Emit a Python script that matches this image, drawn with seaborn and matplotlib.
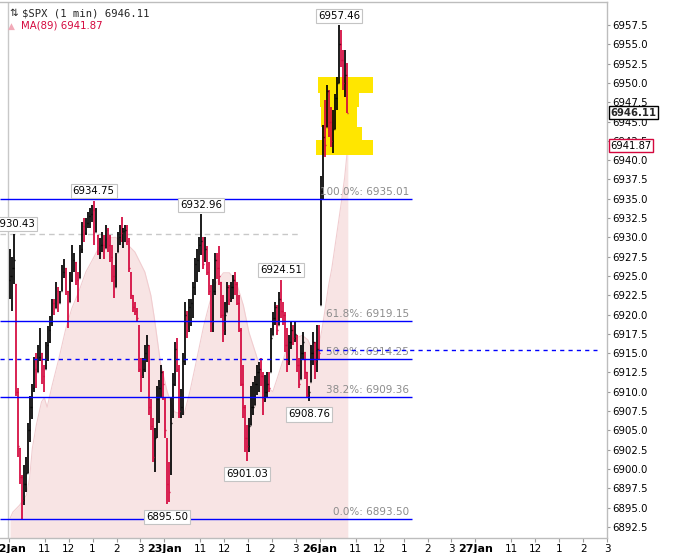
import numpy as np
import pandas as pd
import seaborn as sns
import matplotlib.pyplot as plt
import matplotlib.transforms as mtransforms

# 5-minute bars (high, low, close); open = previous close
hi_22 = [6928.5, 6927.5, 6930.43, 6924.0, 6910.5, 6902.7, 6899.2, 6900.5, 6901.5, 6906.0,
         6909.5, 6911.0, 6914.5, 6915.0, 6916.0, 6918.3, 6915.0, 6913.5, 6916.5, 6918.5,
         6919.8, 6922.0, 6922.0, 6924.2, 6923.5, 6923.0, 6926.4, 6927.2, 6926.0, 6923.0,
         6925.5, 6929.0, 6928.0, 6926.8, 6925.5, 6929.0, 6932.0, 6932.5, 6932.5, 6933.3,
         6933.8, 6934.2, 6934.75, 6933.8, 6930.3, 6929.9, 6930.7, 6930.3, 6931.6, 6931.2,
         6930.3, 6929.0, 6926.4, 6928.0, 6930.7, 6931.6, 6932.6, 6931.2, 6931.6, 6931.6,
         6929.9, 6925.5, 6922.5, 6921.6, 6920.8, 6918.6, 6914.4, 6914.4, 6916.0, 6917.3,
         6916.0, 6909.0, 6906.6, 6905.3, 6910.8, 6911.5, 6913.4, 6912.7]
lo_22 = [6922.0, 6920.5, 6924.0, 6909.5, 6901.5, 6898.0, 6893.5, 6895.3, 6897.0, 6899.5,
         6903.5, 6906.5, 6910.0, 6910.5, 6912.5, 6914.0, 6911.0, 6910.0, 6913.0, 6914.0,
         6916.3, 6918.5, 6920.0, 6920.8, 6920.3, 6921.5, 6923.0, 6924.7, 6922.5, 6918.2,
         6921.6, 6924.2, 6925.5, 6923.8, 6921.6, 6924.7, 6928.0, 6929.4, 6930.3, 6931.2,
         6931.2, 6932.0, 6929.0, 6930.7, 6927.7, 6927.2, 6928.1, 6927.2, 6928.6, 6928.1,
         6926.8, 6924.2, 6922.1, 6923.5, 6928.1, 6929.0, 6929.4, 6928.6, 6929.4, 6929.0,
         6925.5, 6922.0, 6920.3, 6919.9, 6919.0, 6912.5, 6910.0, 6911.8, 6912.5, 6913.8,
         6907.0, 6905.0, 6900.9, 6899.6, 6904.0, 6906.0, 6909.2, 6908.9]
cl_22 = [6925.0, 6926.0, 6927.0, 6910.0, 6903.0, 6899.0, 6896.0, 6898.0, 6899.5, 6905.0,
         6908.0, 6910.5, 6913.0, 6912.0, 6914.5, 6917.0, 6912.0, 6911.0, 6916.0, 6918.0,
         6919.0, 6921.5, 6920.5, 6923.0, 6921.0, 6922.0, 6925.5, 6926.0, 6923.0, 6919.0,
         6924.5, 6927.0, 6927.0, 6924.5, 6922.5, 6928.5, 6931.5, 6930.5, 6931.8, 6932.8,
         6933.0, 6933.5, 6930.5, 6931.0, 6928.0, 6929.0, 6929.0, 6928.0, 6931.0, 6929.0,
         6927.5, 6925.0, 6923.0, 6926.0, 6930.0, 6930.5, 6930.0, 6930.8, 6931.0, 6929.5,
         6926.0, 6922.5, 6921.0, 6920.5, 6919.5, 6913.0, 6912.0, 6913.0, 6915.0, 6916.0,
         6908.0, 6905.5, 6901.5, 6904.0, 6909.0, 6910.5, 6912.5, 6911.0]

hi_23 = [6909.2, 6904.0, 6900.9, 6909.2, 6912.4, 6916.4, 6917.0, 6913.5, 6910.3, 6915.0,
         6921.6, 6920.5, 6922.0, 6922.0, 6924.2, 6927.3, 6928.5, 6930.0, 6932.96, 6930.0,
         6930.0, 6928.9, 6926.8, 6923.8, 6924.6, 6928.0, 6928.0, 6928.9, 6924.2, 6922.5,
         6921.6, 6924.2, 6923.8, 6924.2, 6925.1, 6925.5, 6924.2, 6922.5, 6918.2, 6913.5,
         6908.3, 6905.7, 6906.6, 6910.8, 6911.3, 6912.0, 6913.5, 6913.9, 6914.4, 6912.6,
         6912.2, 6912.6, 6912.6, 6918.2, 6920.3, 6921.6, 6921.2, 6922.9, 6924.51, 6921.6,
         6920.3, 6918.2, 6917.3, 6919.0, 6918.6, 6919.0, 6917.3, 6914.4, 6916.0, 6917.7,
         6915.1, 6912.6, 6910.8, 6916.0, 6917.7, 6916.4, 6918.6, 6918.6]
lo_23 = [6904.0, 6895.5, 6895.7, 6899.2, 6906.6, 6910.8, 6912.5, 6906.6, 6906.6, 6907.0,
         6913.5, 6917.0, 6917.7, 6918.5, 6919.6, 6922.5, 6924.2, 6925.5, 6927.7, 6925.9,
         6926.8, 6925.1, 6922.5, 6917.7, 6917.7, 6922.5, 6924.6, 6923.8, 6919.6, 6916.4,
         6917.3, 6920.3, 6921.2, 6921.6, 6922.0, 6922.5, 6921.2, 6917.7, 6910.8, 6906.6,
         6902.2, 6901.03, 6902.2, 6905.7, 6907.0, 6908.3, 6909.6, 6910.0, 6910.8, 6907.0,
         6908.7, 6909.2, 6910.0, 6912.6, 6917.3, 6918.6, 6917.3, 6918.6, 6919.6, 6918.6,
         6915.1, 6912.6, 6913.5, 6915.5, 6916.0, 6916.4, 6912.6, 6910.5, 6911.7, 6914.3,
         6911.7, 6909.2, 6908.76, 6911.3, 6913.4, 6911.7, 6912.6, 6914.3]
cl_23 = [6905.0, 6898.0, 6897.0, 6906.0, 6911.0, 6915.5, 6913.0, 6907.5, 6908.0, 6914.0,
         6920.0, 6918.0, 6921.0, 6921.5, 6923.5, 6926.5, 6927.0, 6929.0, 6929.5, 6926.5,
         6928.5, 6925.5, 6923.0, 6919.0, 6923.0, 6927.0, 6926.0, 6925.0, 6920.0, 6918.0,
         6920.0, 6923.5, 6922.0, 6923.5, 6924.5, 6924.0, 6921.5, 6918.0, 6911.0, 6908.0,
         6904.0, 6903.0, 6905.5, 6908.0, 6908.0, 6911.0, 6912.5, 6913.0, 6912.0, 6909.0,
         6910.0, 6911.0, 6910.5, 6917.0, 6919.5, 6921.0, 6918.0, 6922.0, 6920.5, 6920.0,
         6916.0, 6914.0, 6916.5, 6918.0, 6917.0, 6917.5, 6913.5, 6911.0, 6915.0, 6916.5,
         6912.5, 6909.6, 6910.0, 6915.0, 6916.5, 6914.0, 6915.5, 6915.0]

hi_26 = [6938.0, 6944.5, 6947.8, 6949.7, 6949.1, 6946.9, 6946.5, 6948.6, 6950.8, 6957.46,
         6956.8, 6954.3, 6954.3, 6952.6]
lo_26 = [6921.2, 6935.0, 6940.4, 6944.3, 6943.0, 6941.7, 6940.9, 6944.0, 6946.5, 6950.0,
         6952.0, 6949.1, 6948.2, 6946.1]
cl_26 = [6936.0, 6943.0, 6942.0, 6949.0, 6945.0, 6942.5, 6944.0, 6948.0, 6950.0, 6955.0,
         6953.0, 6950.0, 6951.0, 6946.11]
first_open = 6924.5

# MA(89) sampled from the pink area (minutes since 22Jan open)
ma_minutes = [3, 10, 27, 44, 52, 59, 69, 82, 89, 96, 109, 126, 143, 158, 175, 193, 212, 225,
              249, 267, 291, 316, 341, 356, 365, 380, 397, 415, 439, 454, 472, 489, 504, 521,
              538, 553, 570, 588, 602, 620, 637, 652, 662, 676, 694, 718, 736, 750, 763, 775,
              785, 792, 802, 810, 822, 834, 842, 850]
ma_values = [6893.6, 6894.4, 6895.3, 6896.6, 6898.8, 6902.7, 6905.7, 6908.7, 6909.2, 6908.0,
             6910.9, 6914.4, 6918.2, 6920.8, 6922.9, 6925.5, 6927.3, 6928.6, 6929.9, 6930.0,
             6929.4, 6928.1, 6925.5, 6922.5, 6919.5, 6913.8, 6910.0, 6907.4, 6907.0, 6910.0,
             6914.4, 6918.6, 6921.6, 6924.2, 6925.4, 6925.4, 6924.2, 6921.2, 6917.7, 6914.8,
             6911.8, 6910.4, 6910.0, 6912.2, 6915.1, 6916.9, 6917.3, 6916.7, 6915.1, 6915.4,
             6918.0, 6920.3, 6923.8, 6926.0, 6930.3, 6934.6, 6937.7, 6941.87]

fib_pct = ['100.0%', '61.8%', '50.0%', '38.2%', '0.0%']
fib_levels = [6935.01, 6919.15, 6914.25, 6909.36, 6893.50]

# marked highs / lows: (day, bar index, value, side)
marks_day = [0, 0, 1, 1, 1, 1, 1, 2]
marks_bar = [2, 42, 1, 18, 41, 58, 72, 9]
marks_val = [6930.43, 6934.75, 6895.50, 6932.96, 6901.03, 6924.51, 6908.76, 6957.46]
marks_up = [True, True, False, True, False, True, False, True]

# yellow highlight block on 26Jan
yellow_low = [6948.7, 6946.9, 6944.3, 6942.6, 6940.7]
yellow_high = [6950.8, 6948.7, 6946.9, 6944.3, 6942.6]
yellow_from = [775, 780, 782, 785, 770]
yellow_to = [913, 879, 874, 886, 913]

prev_close = 6915.4
last_price = 6946.11
last_ma = 6941.87

day_names = ['22Jan', '23Jan', '26Jan', '27Jan']
hour_names = ['11', '12', '1', '2', '3']
hour_offsets = [90, 150, 210, 270, 330]

DAY = 390
BAR = 5

rows = []
for d, (hs, ls, cs) in enumerate([(hi_22, lo_22, cl_22), (hi_23, lo_23, cl_23), (hi_26, lo_26, cl_26)]):
    for i, (h, l, c) in enumerate(zip(hs, ls, cs)):
        rows.append({'t': d * DAY + i * BAR + BAR / 2, 'high': h, 'low': l, 'close': c})
df = pd.DataFrame(rows)
df['open'] = df['close'].shift(1).fillna(first_open)
df['open'] = df['open'].clip(df['low'], df['high'])
df['color'] = np.where(df['close'] >= df['open'], '#000000', '#d4073d')

sns.set_theme(style='white')
plt.rcParams['font.family'] = ['DejaVu Sans']

BLUE = '#0000ff'
RED = '#d4073d'
PINK = '#f8e4e4'

fig = plt.figure(figsize=(6.83, 5.53), dpi=100)
ax = fig.add_axes([0, 15 / 553, 607 / 683, 536 / 553])
xmin, xmax = -22.2, 1476
ymin, ymax = 6891.05, 6960.48
ax.set_xlim(xmin, xmax)
ax.set_ylim(ymin, ymax)

# MA(89) area
ax.fill_between(ma_minutes, ma_values, ymin, color=PINK, lw=0, zorder=1)
sns.lineplot(x=ma_minutes, y=ma_values, color='#f1cdd0', lw=0.8, ax=ax, zorder=1.2)

ax.axvline(-2.5, color='#c8c8c8', lw=1, zorder=1.5)

# yellow highlight
ax.barh([(a + b) / 2 for a, b in zip(yellow_low, yellow_high)],
        [b - a for a, b in zip(yellow_from, yellow_to)],
        height=[b - a for a, b in zip(yellow_low, yellow_high)],
        left=yellow_from, color='#ffe600', lw=0, zorder=2)

# reference lines
split_t = 731
ax.hlines(6930.43, xmin, split_t, color='#c8c8c8', lw=1, linestyles=(0, (4, 3)), zorder=1.6)
for pct, lvl in zip(fib_pct, fib_levels):
    start = split_t if pct == '50.0%' else xmin
    ax.hlines(lvl, start, 1010, color=BLUE, lw=1, zorder=4)
    ax.annotate(f'{pct}: {lvl:.2f}', xy=(1010, lvl), xytext=(-2, 1.5), textcoords='offset points',
                ha='right', va='bottom', color='#8c8c8c', fontsize=7.5, zorder=4)
ax.hlines(fib_levels[2], xmin, split_t, color=BLUE, lw=1, linestyles=(0, (3, 3)), zorder=4)
ax.hlines(prev_close, 2 * DAY - 5, xmax, color=BLUE, lw=1, linestyles=(0, (3, 3)), zorder=4)

# OHLC bars
ax.vlines(df['t'], df['low'], df['high'], colors=df['color'], lw=1.25, zorder=3)
ax.hlines(df['open'], df['t'] - 1.8, df['t'], colors=df['color'], lw=1.0, zorder=3)
ax.hlines(df['close'], df['t'], df['t'] + 1.8, colors=df['color'], lw=1.0, zorder=3)

# high / low labels
for d, b, v, up in zip(marks_day, marks_bar, marks_val, marks_up):
    t = d * DAY + b * BAR + BAR / 2
    ax.annotate(f'{v:.2f}', xy=(t, v), xytext=(0, 7 if up else -9.5), textcoords='offset points',
                ha='center', va='center', fontsize=7.3, color='black', zorder=6,
                annotation_clip=False,
                bbox=dict(boxstyle='square,pad=0.2', fc='white', ec='#c4c4c4', lw=0.8))

# axes styling
for s in ['top', 'right', 'bottom']:
    ax.spines[s].set_color('#bdbdbd')
    ax.spines[s].set_linewidth(1)
ax.spines['left'].set_visible(False)

ax.yaxis.tick_right()
yt = np.arange(6892.5, 6958, 2.5)
ax.set_yticks(yt)
ax.set_yticklabels([f'{v:.1f}' for v in yt])
ax.tick_params(axis='y', right=True, direction='out', length=2, width=0.8, color='#9a9a9a',
               labelsize=7.3, pad=1.5, labelcolor='black')

xt, xl = [], []
for d, name in enumerate(day_names):
    xt.append(d * DAY)
    xl.append(name)
    for off, h in zip(hour_offsets, hour_names):
        xt.append(d * DAY + off)
        xl.append(h)
ax.set_xticks(xt)
ax.set_xticklabels(xl)
ax.tick_params(axis='x', bottom=True, direction='out', length=3, width=0.8, color='#9a9a9a',
               labelsize=7.5, pad=1.5, labelcolor='black')
for lab in ax.get_xticklabels():
    if lab.get_text().endswith('Jan'):
        lab.set_fontweight('bold')
        lab.set_fontsize(8)

# price flags on the right axis
yx = mtransforms.blended_transform_factory(ax.transAxes, ax.transData)
ax.annotate(f'{last_price:.2f}', xy=(1, last_price), xycoords=yx, xytext=(2.5, 0),
            textcoords='offset points', ha='left', va='center', fontsize=7.2, fontweight='bold',
            annotation_clip=False, zorder=7,
            bbox=dict(boxstyle='square,pad=0.15', fc='white', ec='black', lw=1))
ax.annotate(f'{last_ma:.2f}', xy=(1, last_ma), xycoords=yx, xytext=(2.5, 0),
            textcoords='offset points', ha='left', va='center', fontsize=7.2, color='black',
            annotation_clip=False, zorder=7,
            bbox=dict(boxstyle='square,pad=0.15', fc='white', ec=RED, lw=1))

# legend text
fig.text(9 / 683, 1 - 13 / 553, '⇅', fontsize=7.5, va='center', ha='left')
fig.text(22 / 683, 1 - 13 / 553, f'\\$SPX (1 min) {last_price:.2f}', fontsize=7.6,
         family='DejaVu Sans Mono', va='center', ha='left')
fig.text(8 / 683, 1 - 26 / 553, '▲', fontsize=6.5, color='#f2aab8', va='center', ha='left')
fig.text(21 / 683, 1 - 26 / 553, f'MA(89) {last_ma:.2f}', fontsize=7.3, color=RED,
         va='center', ha='left')

fig.savefig('out.png', dpi=100, facecolor='white')
